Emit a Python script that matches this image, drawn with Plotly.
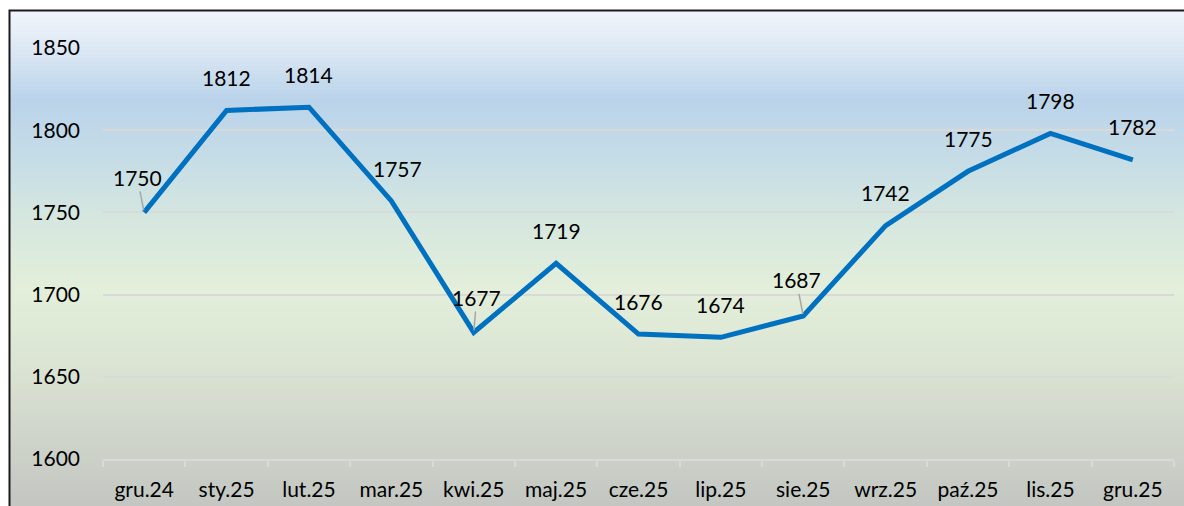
import plotly.graph_objects as go

months = ["gru.24", "sty.25", "lut.25", "mar.25", "kwi.25", "maj.25", "cze.25",
          "lip.25", "sie.25", "wrz.25", "paź.25", "lis.25", "gru.25"]
values = [1750, 1812, 1814, 1757, 1677, 1719, 1676, 1674, 1687, 1742, 1775, 1798, 1782]
y_ticks = [1600, 1650, 1700, 1750, 1800, 1850]

W, H = 1184, 506
ML, MR, MT, MB = 103, 10, 48, 47
PW, PH = W - ML - MR, H - MT - MB
FONT = "Lato, Carlito, sans-serif"
FS = 21

def px_x(px):
    return (px - ML) / PW

def px_y(py):
    return (H - MB - py) / PH

# background gradient stops (pixel y, colour)
stops = [(10, (242, 246, 251)), (48, (221, 232, 244)), (100, (186, 211, 234)),
         (160, (198, 221, 230)), (220, (214, 231, 223)), (290, (227, 239, 218)),
         (360, (220, 229, 212)), (430, (208, 214, 204)), (506, (195, 198, 193))]

def col_at(py):
    for (y0, c0), (y1, c1) in zip(stops[:-1], stops[1:]):
        if y0 <= py <= y1:
            t = (py - y0) / (y1 - y0)
            return tuple(round(a + (b - a) * t) for a, b in zip(c0, c1))
    return stops[-1][1]

shapes = []
step = 4
y = 10
while y < H:
    c = col_at(y + step / 2)
    shapes.append(dict(type="rect", xref="paper", yref="paper",
                       x0=px_x(10), x1=px_x(W + 5), y0=px_y(y + step + 0.5), y1=px_y(y),
                       fillcolor=f"rgb{c}", line=dict(width=0), layer="below"))
    y += step
# frame
shapes.append(dict(type="rect", xref="paper", yref="paper",
                   x0=px_x(9.5), x1=px_x(W + 20), y0=px_y(H + 20), y1=px_y(10.5),
                   fillcolor="rgba(0,0,0,0)", line=dict(color="#1a1a1a", width=2), layer="above"))

fig = go.Figure()
fig.add_trace(go.Scatter(x=months, y=values, mode="lines",
                         line=dict(color="#0070C0", width=5), hoverinfo="skip",
                         showlegend=False, cliponaxis=False))

# label offsets (px) and whether leader line is shown
offsets = {0: (-7, -35, True), 3: (6, -32, False), 4: (3, -35, True), 8: (-7, -36, True)}
annotations = []
for i, (m, v) in enumerate(zip(months, values)):
    ax, ay, leader = offsets.get(i, (0, -33, False))
    annotations.append(dict(x=m, y=v, xref="x", yref="y", text=str(v), showarrow=True,
                            ax=ax, ay=ay, arrowhead=0, arrowwidth=1.5,
                            arrowcolor="#a6a6a6" if leader else "rgba(0,0,0,0)",
                            standoff=2, startstandoff=0,
                            font=dict(family=FONT, size=FS, color="#000000")))

fig.update_layout(
    width=W, height=H,
    margin=dict(l=ML, r=MR, t=MT, b=MB, pad=0, autoexpand=False),
    paper_bgcolor="white", plot_bgcolor="rgba(0,0,0,0)",
    shapes=shapes, annotations=annotations,
    font=dict(family=FONT, size=FS, color="#000000"),
    xaxis=dict(type="category", range=[-0.5, len(months) - 0.5], autorange=False,
               tickson="boundaries", ticks="outside", ticklen=6,
               tickcolor="#d9d9d9", tickwidth=2, showline=True, linecolor="#d9d9d9",
               linewidth=2, showgrid=False, zeroline=False, ticklabelstandoff=11,
               automargin=False, tickfont=dict(size=FS, color="#000000"), fixedrange=True),
    yaxis=dict(range=[1600, 1850], autorange=False, tickvals=y_ticks, showgrid=True,
               gridcolor="#d9d9d9", gridwidth=1.5, zeroline=False, showline=False, ticks="",
               automargin=False, ticklabelstandoff=22,
               tickfont=dict(size=FS, color="#000000"), fixedrange=True),
)

fig.write_html("out.html", config={"displayModeBar": False},
               post_script="document.body.style.margin='0';document.body.style.overflow='hidden';")
